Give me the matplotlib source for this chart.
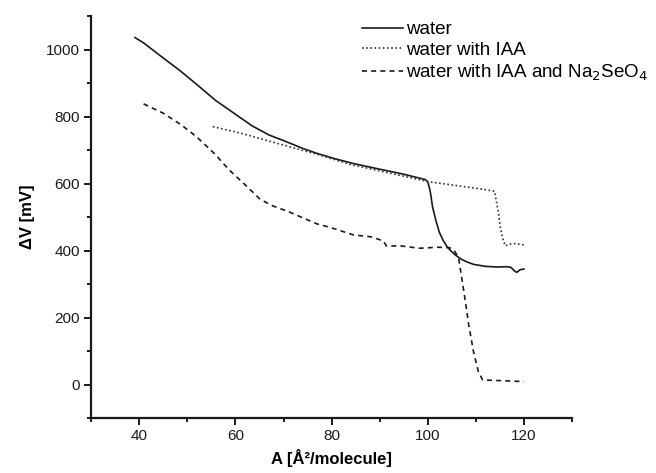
import matplotlib
matplotlib.use("Agg")
import matplotlib.pyplot as plt
from matplotlib.ticker import MultipleLocator

plt.rcParams['font.family'] = ['Liberation Sans', 'DejaVu Sans']

# water
water_x = [39.1, 40.9, 44.7, 48.4, 52.2, 55.9, 59.7, 63.4, 67.0, 70.6, 74.0, 77.0,
           80.5, 84.5, 90.0, 95.0, 99.5, 100.0, 100.3, 100.6, 101.0, 101.7, 102.4,
           103.25, 104.0, 104.8, 105.8, 107.0, 108.2, 109.5, 112.0, 114.5, 116.4,
           117.3, 118.0, 118.5, 119.2, 120.0]
water_y = [1036, 1020, 978, 938, 893, 848, 810, 773, 745, 725, 705, 690,
           675, 660, 643, 628, 612, 605, 590, 569, 530, 489, 455,
           429, 412, 399, 386, 374, 366, 359, 353, 351, 352,
           350, 340, 335, 343, 345]

# water with IAA
iaa_x = [55.3, 61.25, 67.5, 73.75, 76.9, 80.5, 84.5, 90.0, 95.0, 100.0, 104.0, 108.0,
         112.0, 113.9, 114.6, 115.1, 115.6, 116.1, 117.0, 118.25, 120.0]
iaa_y = [770, 750, 725, 700, 688, 672, 655, 638, 622, 606, 598, 590,
         582, 577, 520, 469, 435, 414, 419, 421, 417]

# water with IAA and Na2SeO4
se_x = [40.9, 45.0, 48.75, 51.9, 55.6, 58.75, 62.5, 65.0, 67.5, 71.25, 76.9, 80.0,
        84.5, 88.25, 90.75, 91.4, 94.5, 98.25, 102.0, 104.5, 105.5, 106.4, 107.6,
        108.5, 109.5, 110.5, 111.4, 115.0, 120.0]
se_y = [838, 810, 775, 740, 690, 640, 590, 555, 535, 515, 480, 468,
        447, 441, 429, 414, 414, 407, 410, 409, 400, 379, 269,
        180, 99, 40, 14, 12, 9]

labels = ['water', 'water with IAA', 'water with IAA and Na$_2$SeO$_4$']

fig = plt.figure(figsize=(6.56, 4.73), dpi=100)
ax = fig.add_axes([0.139, 0.116, 0.733, 0.850])

ax.plot(water_x, water_y, color='#1a1a1a', lw=1.2, ls='-', label=labels[0])
ax.plot(iaa_x, iaa_y, color='#333333', lw=1.2, ls=(0, (1, 1.5)), label=labels[1])
ax.plot(se_x, se_y, color='#1a1a1a', lw=1.2, ls=(0, (3, 2.5)), label=labels[2])

ax.set_xlim(30, 130)
ax.set_ylim(-100, 1100)
ax.xaxis.set_minor_locator(MultipleLocator(10))
ax.yaxis.set_minor_locator(MultipleLocator(100))
ax.set_xticks([40, 60, 80, 100, 120])
ax.set_yticks([0, 200, 400, 600, 800, 1000])

for side in ['top', 'right']:
    ax.spines[side].set_visible(False)
for side in ['left', 'bottom']:
    ax.spines[side].set_linewidth(1.6)
    ax.spines[side].set_color('#1a1a1a')

ax.tick_params(which='major', direction='out', length=5, width=1.4, labelsize=11,
               colors='#1a1a1a', pad=3)
ax.tick_params(which='minor', direction='out', length=3, width=1.4, colors='#1a1a1a')

ax.set_xlabel('A [Å²/molecule]', fontsize=12, fontweight='bold', labelpad=4)
ax.set_ylabel('ΔV [mV]', fontsize=12, fontweight='bold', labelpad=8)

ax.legend(loc='upper left', bbox_to_anchor=(0.552, 0.955), bbox_transform=fig.transFigure,
          frameon=False, fontsize=13.5, handlelength=2.2, handletextpad=0.15,
          labelspacing=0.18, borderpad=0, borderaxespad=0)

fig.savefig('out.png', dpi=100)
